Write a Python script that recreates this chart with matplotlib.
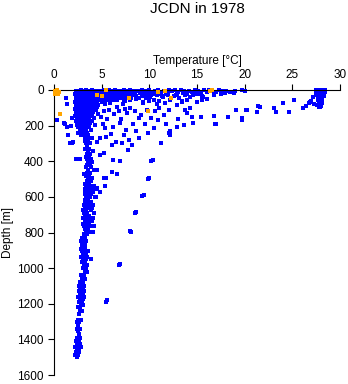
import matplotlib
matplotlib.use("Agg")
import matplotlib.pyplot as plt

plt.rcParams['font.family'] = ['Liberation Sans', 'DejaVu Sans']

title = "JCDN in 1978"
xlabel = "Temperature [°C]"
ylabel = "Depth [m]"
xticks = [0, 5, 10, 15, 20, 25, 30]
yticks = [0, 200, 400, 600, 800, 1000, 1200, 1400, 1600]

# surface band (temperature, depth)
surface_pts = [(2.4,5),(2.8,0),(3.1,10),(3.4,2),(3.7,15),(4.0,0),(4.3,8),(4.6,3),(4.9,12),(5.2,0),(5.5,6),(5.8,2),
               (6.1,10),(6.4,0),(6.7,5),(7.0,14),(7.3,2),(7.6,8),(8.0,0),(8.4,12),(8.8,4),(9.2,0),(9.6,9),(10.0,2),
               (10.3,15),(10.6,5),(10.9,0),(11.2,10),(11.5,3),(11.8,18),(12.1,0),(12.4,8),(12.7,2),(13.0,12),(13.3,0),
               (13.6,6),(13.9,20),(14.2,3),(14.5,10),(14.8,0),(15.1,7),(15.4,15),(15.7,2),(16.0,9),(16.3,0),(16.6,5),
               (17.0,12),(17.3,2),(17.6,8),(18.0,4),(18.5,10),(19.0,3),(19.7,0),(20.0,6),(5.0,25),(5.4,30),(6.0,22),
               (6.5,35),(7.1,28),(7.7,40),(8.2,30),(8.9,45),(9.5,25),(10.1,38),(10.8,30),(11.4,42),(12.0,28),(12.6,35),
               (13.1,45),(13.7,30),(14.3,40),(14.9,25),(15.5,35),(16.1,48),(16.8,30),(17.5,25),(10.5,55),(11.0,60),
               (12.2,55),(13.4,62),(14.0,55),(15.0,65),(6.2,55),(7.4,60),(8.6,52),(9.3,65),(10.4,20),(11.7,24),
               (12.9,22),(14.6,28),(9.0,18),(7.9,20),(6.8,18),(5.7,15),(18.9,15),(17.9,18),(12.0,12),(13.5,15),
               (11.0,20),(10.2,28),(11.3,32),(12.8,30),(14.0,18),(15.2,22)]

# dense near-surface band rows: depth -> temperatures
band_depths = [8, 20, 32, 44, 56]
band_temps = [[5.1,5.5,5.9,6.3,6.7,7.1,7.5,7.9,8.3,8.7,9.1,9.5],
              [4.9,5.3,5.7,6.1,6.5,6.9,7.3,7.7,8.1,8.5,9.3,9.9],
              [5.0,5.4,5.8,6.2,6.6,7.0,7.4,8.0,8.6,9.2],
              [5.2,5.6,6.0,6.4,6.8,7.2,8.1,8.7,9.6],
              [5.1,5.5,5.9,6.6,7.3,8.0]]

# dense upper cluster rows: depth -> temperatures
blob_depths = [5, 15, 25, 35, 45, 55, 65, 75, 85, 95, 105, 115, 125, 135, 145, 155, 165, 175, 185, 195, 210, 225, 240, 255]
blob_temps = [[2.3,2.7,3.0,3.3,3.6,3.9,4.2,4.5,4.8],
              [2.5,2.9,3.2,3.5,3.8,4.1,4.4,4.7],
              [2.2,2.6,3.0,3.4,3.7,4.0,4.3,4.6,5.0],
              [2.4,2.8,3.1,3.5,3.9,4.2,4.6],
              [2.3,2.7,3.0,3.3,3.6,4.0,4.4,4.8],
              [2.5,2.9,3.2,3.6,3.9,4.3,4.7],
              [2.2,2.6,3.0,3.4,3.8,4.1,4.5],
              [2.4,2.8,3.1,3.5,3.9,4.4],
              [2.3,2.7,3.0,3.3,3.7,4.2,4.6],
              [2.5,2.9,3.2,3.6,4.0,4.5],
              [2.2,2.6,3.0,3.4,3.8,4.3],
              [2.4,2.8,3.2,3.5,3.9,4.4],
              [2.3,2.7,3.1,3.4,3.7,4.1],
              [2.5,2.9,3.3,3.6,4.0,4.6],
              [2.2,2.6,3.0,3.5,3.9],
              [2.4,2.8,3.2,3.6,4.2],
              [2.5,2.9,3.3,3.7],
              [2.3,2.7,3.1,3.5,4.0],
              [2.6,3.0,3.4,3.8],
              [2.4,2.8,3.2,3.6,4.3],
              [2.5,2.9,3.3,3.7],
              [2.7,3.1,3.4,3.9],
              [2.6,3.0,3.5],
              [2.8,3.2,3.6]]

# deep column rows: depth -> temperatures
col_depths = [270, 285, 300, 315, 330, 345, 360, 375, 390, 405, 420, 435, 450, 465, 480, 495, 510, 525, 540, 555,
              570, 585, 600, 615, 630, 645, 660, 675, 690, 705, 720, 735, 750, 765, 780, 795, 810, 830, 850, 870,
              890, 905, 920, 935, 950, 965, 980, 1000, 1020, 1040, 1060, 1080, 1100, 1115, 1130, 1145, 1160, 1175,
              1190, 1205, 1220, 1240, 1260, 1290, 1305, 1320, 1340, 1355, 1370, 1390, 1410, 1425, 1440, 1455, 1470,
              1485, 1500]
col_temps = [[3.3,3.7,4.0],[3.2,3.6],[3.4,3.8],[3.5],[3.3,3.7],[3.6,4.1],[3.5,3.8],[3.4,3.7],[2.3,2.7,3.5,3.9],
             [3.6,4.0],[3.5,3.8],[3.4,3.9],[3.6,4.2],[3.5,3.8],[3.4,3.7],[3.6,4.0],[3.5,3.9],[3.3,3.7],
             [3.4,3.8,4.2],[3.2,3.6,4.0,4.4],[3.3,3.7,4.1],[3.2,3.5,3.9],[3.4,3.8,4.3],[3.3,3.6],[3.2,3.5,3.9],
             [3.1,3.4,3.8,4.1],[3.2,3.6,4.0],[3.0,3.4,3.9],[3.1,3.5,4.2],[3.3,3.7],[3.0,3.4,3.8,4.1],
             [3.2,3.6,4.0],[3.0,3.3,3.7],[3.1,3.5,3.9,4.2],[3.2,3.6],[3.4,3.8,4.1],[3.1,3.5],[2.9,3.2],
             [2.8,3.1,3.4],[2.9,3.3],[2.8,3.2],[2.9,3.3,3.6],[3.0,3.4],[2.8,3.2,3.5],[3.0,3.4,3.9],[2.9,3.3],
             [3.1,3.5],[3.0,3.4],[3.2,3.5],[2.8,3.1],[2.9,3.3],[2.7,3.0],[2.6,2.9,3.1],[2.7,3.0],[2.6,2.9,3.1],
             [2.7,3.0],[2.5,2.8,3.1],[2.7,3.0],[2.6,2.9],[2.8,3.0],[2.5,2.7],[2.7,2.9],[2.6],[2.5,2.8],[2.4,2.6],
             [2.5],[2.4,2.7],[2.5],[2.6],[2.4,2.7],[2.3,2.6],[2.4,2.7],[2.2,2.5,2.8],[2.4,2.6],[2.3,2.6],
             [2.2,2.5],[2.4]]

# scattered intermediate points (temperature, depth)
scatter_pts = [(0.3,169),(1.2,190),(1.3,45),(1.4,80),(1.9,157),(1.8,200),(1.1,185),(1.4,205),(1.5,253),(1.7,300),
               (2.0,290),(2.5,243),(1.9,300),(4.8,45),(5.3,80),(5.8,110),(6.3,135),(7.0,163),(7.7,130),(8.0,100),
               (8.5,118),(8.9,155),(9.3,75),(9.8,110),(10.2,155),(9.5,190),(8.3,190),(7.5,225),(6.2,205),(5.5,262),
               (6.5,290),(7.9,280),(8.9,270),(6.0,245),(4.8,270),(5.0,70),(5.2,120),(5.6,160),(5.1,190),(5.9,75),
               (6.6,95),(7.2,80),(6.8,120),(7.4,105),(4.9,150),(5.4,215),(6.9,185),(7.3,255),(8.6,230),(9.9,240),
               (10.5,215),(4.5,290),(5.2,355),(6.1,310),(7.1,295),(8.2,310),(7.8,337),(4.5,450),(4.8,365),(6.2,393),
               (6.9,400),(6.1,460),(6.6,470),(5.2,495),(5.5,495),(5.3,540),(4.8,570),(4.5,550),(4.0,560),(4.4,600),
               (3.1,470),(10.9,170),(11.6,73),(12.1,110),(12.9,85),(13.4,65),(13.7,110),(14.3,100),(14.5,150),
               (15.4,150),(16.8,147),(18.2,150),(19.1,110),(19.7,157),(20.1,110),(21.3,125),(21.4,88),(14.6,185),
               (13.6,196),(12.9,205),(12.2,230),(12.1,240),(11.2,300),(16.9,190),(15.5,55),(15.6,40),(10.6,118),
               (10.8,80),(12.2,250),(14.6,186),(17.0,190),(19.7,170),(18.3,150),(20.2,115),(11.5,140),(13.0,160),
               (11.8,190),(14.0,130),(9.1,140),(10.0,60),(11.0,100)]

# deep warm-offset branch (temperature, depth)
branch_pts = [(10.4,393),(10.2,400),(10.0,494),(9.9,500),(9.2,595),(9.4,590),(8.5,693),(8.6,685),
              (8.0,790),(8.1,795),(6.8,985),(6.9,975),(5.5,1190),(5.6,1180)]

# warm surface water (temperature, depth)
warm_pts = [(27.5,0),(27.8,0),(28.1,0),(28.4,0),(27.6,8),(27.9,10),(28.2,6),(27.5,18),(27.8,20),(28.1,15),
            (28.4,12),(27.6,28),(27.9,30),(28.2,25),(27.7,38),(28.0,40),(28.3,35),(27.8,48),(28.1,50),(27.7,58),
            (28.0,60),(27.8,70),(28.1,72),(27.9,82),(28.0,90),(27.8,95),(27.2,42),(27.0,62),(26.4,90),(26.1,100),
            (25.2,56),(24.0,73),(21.6,95),(23.1,100),(23.3,124),(24.7,124),(27.6,84),(27.9,98),(26.7,75),
            (26.9,70),(27.3,80)]

# flagged (orange) points
orange_temp = [0.1, 0.3, 0.2, 0.4, 0.1, 0.5, 0.6, 5.5, 4.5, 5.0, 7.9, 9.9, 11.6, 10.9, 12.3, 16.4, 16.6]
orange_depth = [5, 0, 15, 20, 25, 10, 135, 0, 28, 32, 45, 118, 5, 12, 45, 5, 0]

blue_t, blue_d = [], []
for pts in (surface_pts, scatter_pts, branch_pts, warm_pts):
    for t, d in pts:
        blue_t.append(t)
        blue_d.append(d)
for depths, temps in ((band_depths, band_temps), (blob_depths, blob_temps), (col_depths, col_temps)):
    for d, ts in zip(depths, temps):
        for t in ts:
            blue_t.append(t)
            blue_d.append(d)

W, H = 348, 384
fig = plt.figure(figsize=(W / 100, H / 100), dpi=100)
ax = fig.add_axes([54 / W, 1 - 375 / H, (340 - 54) / W, (375 - 90) / H])

ax.scatter(blue_t, blue_d, s=7, marker='s', color='#0000ff', linewidths=0, clip_on=False, zorder=2)
ax.scatter(orange_temp, orange_depth, s=7, marker='s', color='#ffa500', linewidths=0, clip_on=False, zorder=3)

ax.set_xlim(0, 30)
ax.set_ylim(1600, 0)
ax.set_xticks(xticks)
ax.set_yticks(yticks)
ax.xaxis.tick_top()
for s in ('right', 'bottom'):
    ax.spines[s].set_visible(False)
for s in ('top', 'left'):
    ax.spines[s].set_linewidth(0.8)
ax.tick_params(axis='both', direction='out', length=4.3, width=0.8, labelsize=8.5, pad=3)
ax.tick_params(axis='x', pad=2.5)

fig.text(197 / W, 1 - 13 / H, title, ha='center', va='baseline', fontsize=11)
fig.text(197 / W, 1 - 64 / H, xlabel, ha='center', va='baseline', fontsize=8.5)
fig.text(8 / W, 1 - 232 / H, ylabel, ha='center', va='center', rotation=90, fontsize=8.5)

fig.savefig("out.png", dpi=100)
